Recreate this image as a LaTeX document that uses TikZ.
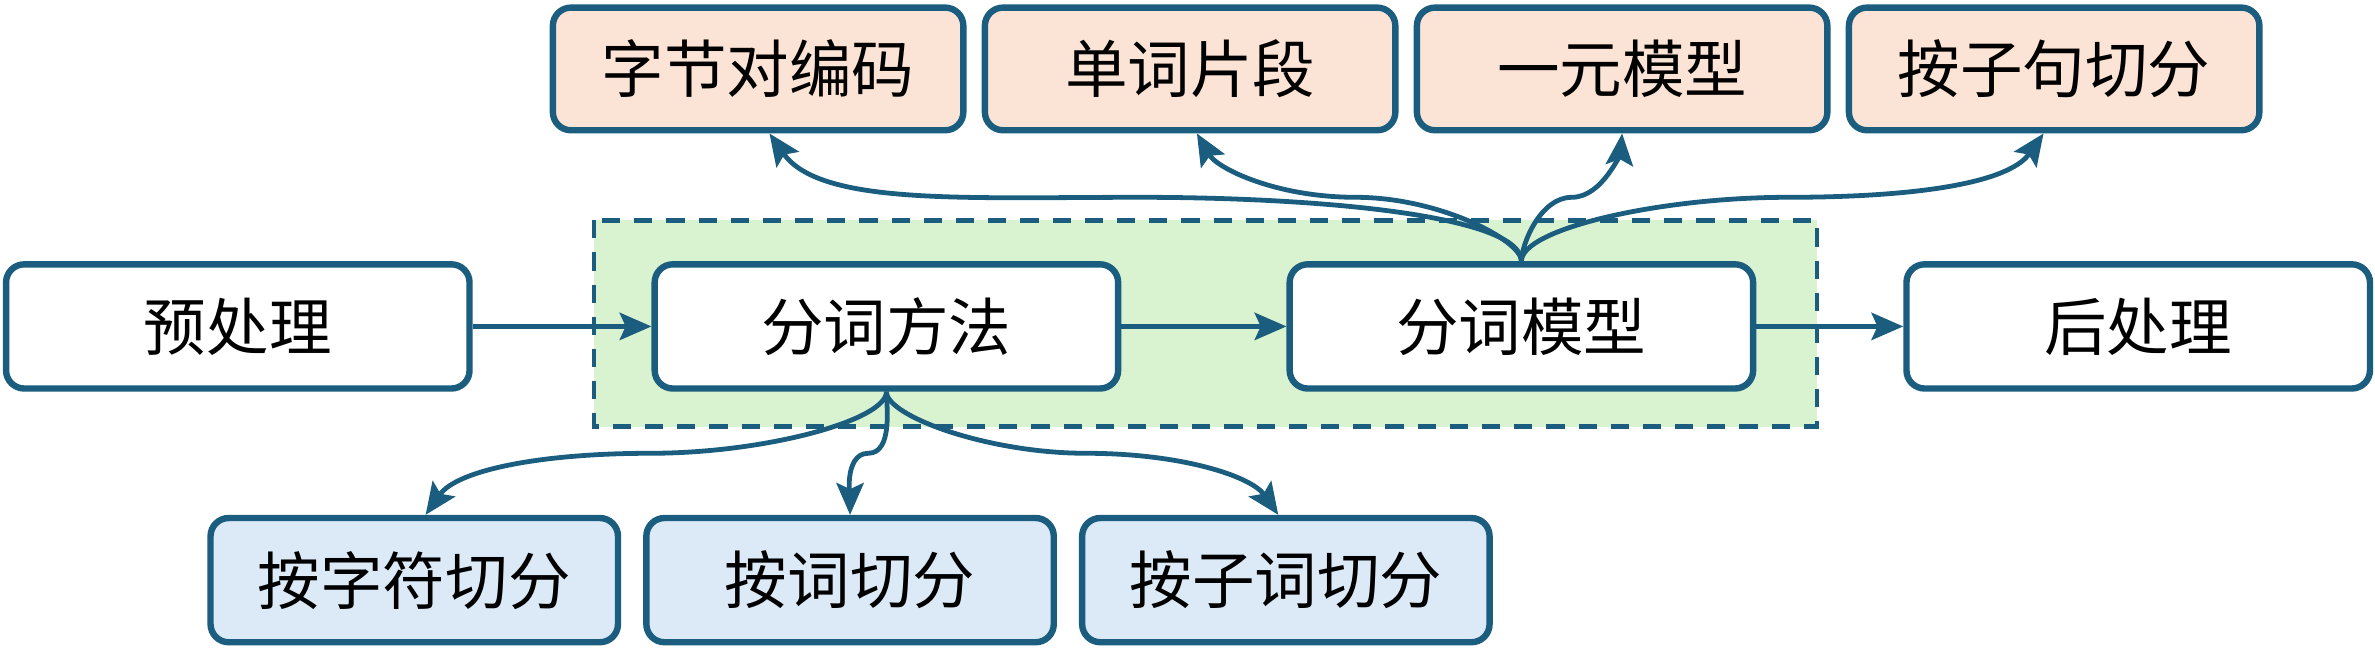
\documentclass[tikz,border=0pt]{standalone}
\usepackage{fontspec}
\setmainfont{Noto Sans CJK SC}
\usepackage{tikz}
\usetikzlibrary{
  arrows.meta,
  backgrounds,
  calc,
  positioning,
}
\definecolor{tealblue}{RGB}{26, 93, 126}
\definecolor{peach}{RGB}{251, 227, 214}
\definecolor{paleblue}{RGB}{220, 234, 247}
\definecolor{palegreen}{RGB}{217, 242, 208}
\tikzstyle{box} = [
  rectangle,
  draw=tealblue,
  line width=2.4pt,
  rounded corners=2.4mm,
  minimum width=61.2mm,
  minimum height=16.4mm,
  fill=white,
  font=\fontsize{23.5}{28}\selectfont,
]
\tikzstyle{topbox} = [box, minimum width=54.2mm, minimum height=16.2mm, fill=peach]
\tikzstyle{subbox} = [box, minimum width=53.8mm, fill=paleblue]
\tikzstyle{arrow} = [
  -{Stealth[length=4.2mm,width=3.6mm,inset=0.8mm]},
  line width=1.8pt,
  tealblue,
]
\tikzstyle{group} = [
  draw=tealblue,
  line width=1.8pt,
  dash pattern=on 2.4mm off 1.85mm,
  fill=palegreen,
]

\begin{document}
\begin{tikzpicture}
      \useasboundingbox (0,0) rectangle (313.6mm,-86.8mm);

			\node[box] (pre) at (31.4mm,-43.1mm) {预处理};
			\node[box] (method) [right=23.6mm of pre] {分词方法};
			\node[box] (model) [right=21.8mm of method] {分词模型};
			\node[box] (post) [right=19.4mm of model] {后处理};

			\node[topbox] (bpe) at (100.1mm,-9.1mm) {字节对编码};
			\node[topbox] (wp) [right=2mm of bpe] {单词片段};
			\node[topbox] (uni) [right=2mm of wp] {一元模型};
			\node[topbox] (sent) [right=2mm of uni] {按子句切分};

			\node[subbox] (char) at (54.7mm,-76.6mm) {按字符切分};
			\node[subbox] (word) [right=2.9mm of char] {按词切分};
			\node[subbox] (subword) [right=2.9mm of word] {按子词切分};

      \begin{scope}[on background layer]
        \draw[group] ($(method.north west)+(-7.6mm,5.4mm)$) rectangle ($(model.south east)+(8mm,-4.6mm)$);
      \end{scope}

			\draw[arrow] (pre) -- (method);
			\draw[arrow] (method) -- (model);
			\draw[arrow] (model) -- (post);

			\draw[arrow] (model.north) to[out=90,in=0,out looseness=0.3,in looseness=1.2] ($(model.north)!.5!(bpe.south)$)
			  to[out=180,in=-55,out looseness=1.2,in looseness=0.6] ($(bpe.south)+(1.5mm,0)$);
			\draw[arrow] (model.north) to[out=90,in=0,out looseness=0.3,in looseness=1.2] ($(model.north)!.5!(wp.south)$)
			  to[out=180,in=-60,out looseness=1.2,in looseness=0.6] ($(wp.south)+(0.9mm,0)$);
			\draw[arrow] (model.north) to[out=90,in=180,out looseness=0.5,in looseness=1] ($(model.north)!.5!(uni.south)$)
			  to[out=0,in=-95,out looseness=1,in looseness=0.5] (uni.south);
			\draw[arrow] (model.north) to[out=90,in=180,out looseness=0.3,in looseness=1.2] ($(model.north)!.5!(sent.south)$)
			  to[out=0,in=-125,out looseness=1.2,in looseness=0.6] ($(sent.south)+(-1.4mm,0)$);

			\draw[arrow] (method.south) to[out=-90,in=0,out looseness=0.3,in looseness=1.2] ($(method.south)!.5!(char.north)$)
			  to[out=180,in=55,out looseness=1.2,in looseness=0.6] ($(char.north)+(1.5mm,0)$);
			\draw[arrow] (method.south) to[out=-90,in=0,out looseness=0.5,in looseness=1] ($(method.south)!.5!(word.north)$)
			  to[out=180,in=90,out looseness=1,in looseness=0.5] (word.north);
			\draw[arrow] (method.south) to[out=-90,in=180,out looseness=0.3,in looseness=1.2] ($(method.south)!.5!(subword.north)$)
			  to[out=0,in=125,out looseness=1.2,in looseness=0.6] ($(subword.north)+(-1mm,0)$);
      \end{tikzpicture}
\end{document}
